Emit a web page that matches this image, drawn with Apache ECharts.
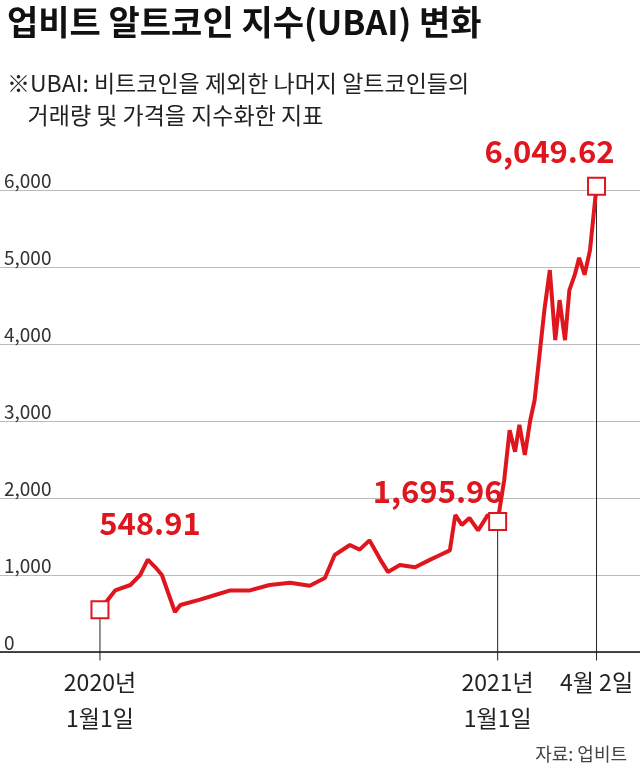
<!DOCTYPE html><html><head><meta charset="utf-8">
<script src="https://cdn.jsdelivr.net/npm/echarts@6/dist/echarts.min.js"></script>
<style>body{margin:0;background:#fff}#c{width:640px;height:778px}</style></head><body><div id="c"></div><script>
const days=[0,14,28,37,44,51,57,69,74,92,106,120,138,156,175,193,207,216,230,239,248,258,265,276,290,304,313,322,327,333,340,348,357,366,372,377,382,386,391,396,400,405,409,414,419,423,428,432,437,441,446,451,457];
const values=[548.91,800,870,1000,1200,1100,1000,520,610,680,740,800,800,870,900,860,960,1260,1390,1330,1450,1200,1040,1130,1100,1200,1260,1320,1780,1650,1740,1580,1780,1695.96,2230,2880,2600,2950,2560,3010,3270,3920,4440,4960,4050,4570,4050,4700,4900,5120,4900,5220,6049.62];
const marks=[[0,548.91,'548.91'],[366,1695.96,'1,695.96'],[457,6049.62,'6,049.62']];
const F='"Noto Sans CJK KR"';
const ch=echarts.init(document.getElementById('c'));
const series=[{type:'line',data:days.map((d,i)=>[d,values[i]]),symbol:'none',lineStyle:{color:'#e0161e',width:4},z:3,clip:false}];
marks.forEach(m=>series.push({type:'line',data:[[m[0],m[1]],[m[0],-110]],symbol:'none',lineStyle:{color:'#222',width:1},z:2,clip:false}));
series.push({type:'scatter',clip:false,data:marks.map(m=>[m[0],m[1]]),symbol:'rect',symbolSize:17,itemStyle:{color:'#fff',opacity:1,borderColor:'#e0161e',borderWidth:2},z:5,
 label:{show:true,formatter:p=>marks[p.dataIndex][2],color:'#e0161e',fontFamily:F,fontWeight:'bold',fontSize:31,
 position:'top'},labelLayout:p=>{const o=[[50,-57],[-60,0],[-47,-5]][p.dataIndex];return {dx:o[0],dy:o[1]};}});
ch.setOption({animation:false,
 title:[{text:'업비트 알트코인 지수(UBAI) 변화',left:2,top:0,textStyle:{fontFamily:F,fontWeight:'bold',fontSize:34,color:'#111'}},
 {text:'※UBAI: 비트코인을 제외한 나머지 알트코인들의\n    거래량 및 가격을 지수화한 지표',left:2,top:62,textStyle:{fontFamily:F,fontWeight:'normal',fontSize:23,color:'#222',lineHeight:32}},
 {text:'자료: 업비트',right:8,top:740,textStyle:{fontFamily:F,fontWeight:'normal',fontSize:18,color:'#444'}}],
 grid:{left:0,right:0,top:190,bottom:126},
 xAxis:{type:'value',min:-92,max:497,axisLine:{show:true,onZero:false,lineStyle:{color:'#111',width:1.5}},axisTick:{show:false},splitLine:{show:false},
  axisLabel:{show:true,customValues:[0,366,457],fontFamily:F,fontSize:23,color:'#222',lineHeight:36,margin:12,
  formatter:v=>v===0?'2020년\n1월1일':v===366?'2021년\n1월1일':'4월 2일'}},
 yAxis:{type:'value',min:0,max:6000,interval:1000,axisLine:{show:false},axisTick:{show:false},
  splitLine:{lineStyle:{color:'#bbb',width:1}},
  axisLabel:{inside:true,verticalAlign:'bottom',margin:4,fontFamily:F,fontSize:19,color:'#333',formatter:v=>v.toLocaleString('en-US')}},
 series});
</script></body></html>
